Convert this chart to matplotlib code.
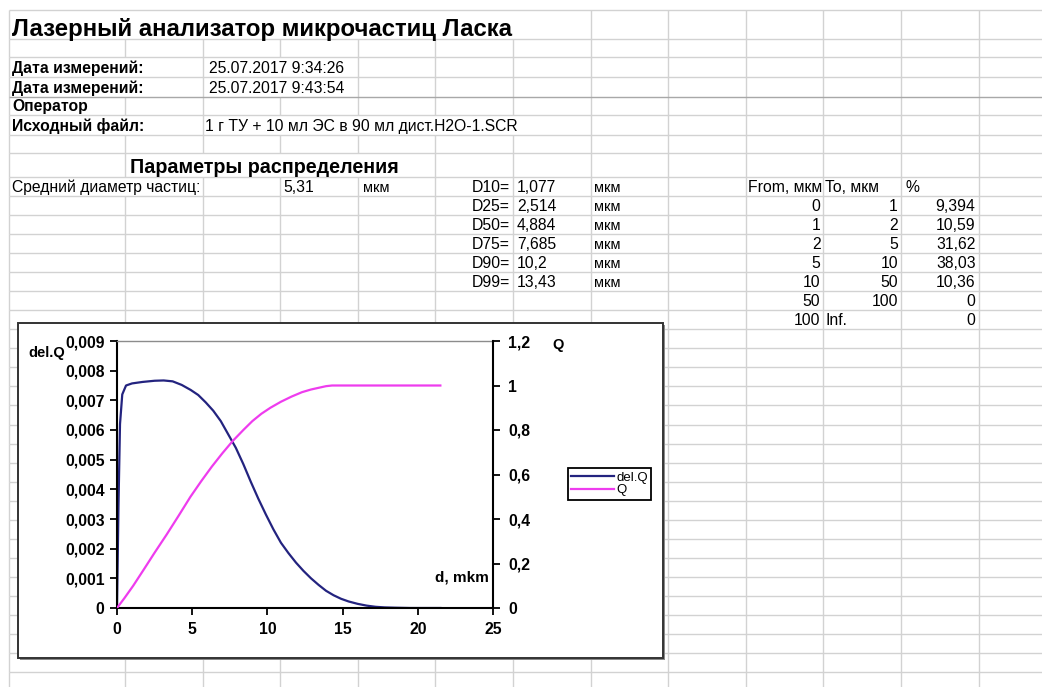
import numpy as np
import matplotlib
matplotlib.use("Agg")
import matplotlib.pyplot as plt
from matplotlib.patches import Rectangle

plt.rcParams["font.family"] = ["Liberation Sans", "DejaVu Sans"]

# --- sheet contents ---
title = "Лазерный анализатор микрочастиц Ласка"
date_start = "25.07.2017 9:34:26"
date_end = "25.07.2017 9:43:54"
src_file = "1 г ТУ + 10 мл ЭС в 90 мл дист.H2O-1.SCR"
mean_d = 5.31

d_names = ["D10", "D25", "D50", "D75", "D90", "D99"]
d_vals = [1.077, 2.514, 4.884, 7.685, 10.2, 13.43]

from_um = [0, 1, 2, 5, 10, 50, 100]
to_um = [1, 2, 5, 10, 50, 100, "Inf."]
pct = [9.394, 10.59, 31.62, 38.03, 10.36, 0, 0]

# --- curves ---
dq_x = [0.0, 0.1, 0.2, 0.35, 0.6, 1.0, 1.7, 2.5, 3.1, 3.7, 4.3, 4.9, 5.4, 5.9,
        6.4, 6.9, 7.4, 7.9, 8.4, 8.9, 9.4, 9.9, 10.4, 10.9, 11.4, 11.9, 12.4,
        12.9, 13.4, 13.9, 14.4, 14.9, 15.4, 16.0, 16.6, 17.2, 17.8, 18.5, 19.5, 21.5]
dq_y = [0.0, 0.0035, 0.0062, 0.0072, 0.0075, 0.00757, 0.00762, 0.00766, 0.00767,
        0.00764, 0.00752, 0.00735, 0.00718, 0.00693, 0.00665, 0.0063, 0.00585,
        0.0054, 0.00485, 0.00425, 0.00368, 0.00315, 0.00265, 0.0022, 0.00185,
        0.00153, 0.00125, 0.001, 0.00078, 0.00058, 0.00043, 0.00031, 0.00022,
        0.00014, 0.00008, 0.00004, 0.00002, 0.00001, 0.0, 0.0]

q_x = [0.0, 0.5, 1.077, 1.8, 2.514, 3.3, 4.1, 4.884, 5.6, 6.3, 7.0, 7.685, 8.4,
       9.0, 9.6, 10.2, 10.9, 11.6, 12.3, 12.9, 13.43, 13.9, 14.3, 21.5]
q_y = [0.0, 0.045, 0.10, 0.175, 0.25, 0.33, 0.415, 0.50, 0.57, 0.635, 0.695, 0.75,
       0.80, 0.84, 0.873, 0.90, 0.927, 0.95, 0.97, 0.982, 0.99, 0.997, 1.0, 1.0]

x_ticks = [0, 5, 10, 15, 20, 25]
dq_ticks = [0, 0.001, 0.002, 0.003, 0.004, 0.005, 0.006, 0.007, 0.008, 0.009]
q_ticks = [0, 0.2, 0.4, 0.6, 0.8, 1.0, 1.2]


def comma(v):
    if isinstance(v, str):
        return v
    if float(v).is_integer():
        return str(int(v))
    return ("%g" % v).replace(".", ",")


W, H = 1042, 687
fig = plt.figure(figsize=(W / 100, H / 100), dpi=100)

# spreadsheet layer in pixel coordinates
sh = fig.add_axes([0, 0, 1, 1])
sh.set_xlim(0, W)
sh.set_ylim(H, 0)
sh.axis("off")

col_x = [9] + list(125 + 77.6 * np.arange(12))
row_y = [10, 39, 57, 77, 97, 115, 135, 153, 177] + list(177 + 19.04 * np.arange(1, 28))

# cell borders hidden by overflowing / merged text: row -> column line index
hidden = {0: [1, 2, 3, 4, 5, 6], 2: [1, 3], 3: [1, 3], 5: [1, 3, 4, 5, 6],
          7: [2, 3, 4], 8: [1]}

grid_c = "#d2d2d2"
for i in range(len(row_y) - 1):
    for j, x in enumerate(col_x):
        if j in hidden.get(i, []):
            continue
        sh.vlines(x, row_y[i], row_y[i + 1], color=grid_c, lw=1.0)
for i, y in enumerate(row_y):
    sh.hlines(y, col_x[0], W, color="#a8a8a8" if i == 4 else grid_c, lw=1.0)


def base(i):
    return row_y[i + 1] - 4


fs = 11.3
sh.text(12, base(0) + 1, title, fontsize=17.3, fontweight="bold")
sh.text(12, base(2), "Дата измерений:", fontsize=fs, fontweight="bold")
sh.text(209, base(2), date_start, fontsize=fs)
sh.text(12, base(3), "Дата измерений:", fontsize=fs, fontweight="bold")
sh.text(209, base(3), date_end, fontsize=fs)
sh.text(12, base(4), "Оператор", fontsize=fs, fontweight="bold")
sh.text(12, base(5), "Исходный файл:", fontsize=fs, fontweight="bold")
sh.text(205, base(5), src_file, fontsize=fs)
sh.text(130, base(7), "Параметры распределения", fontsize=14.2, fontweight="bold")

sh.text(12, base(8), "Средний диаметр частиц:", fontsize=fs)
sh.text(col_x[3] + 3, base(8), comma(mean_d), fontsize=fs)
sh.text(col_x[4] + 5, base(8), "мкм", fontsize=10.5)

for k, (name, val) in enumerate(zip(d_names, d_vals)):
    r = 8 + k
    sh.text(col_x[6] - 3, base(r), name + "=", fontsize=fs, ha="right")
    sh.text(col_x[6] + 4, base(r), comma(val), fontsize=fs)
    sh.text(col_x[7] + 3, base(r), "мкм", fontsize=10.5)

sh.text(col_x[9] + 2, base(8), "From, мкм", fontsize=fs)
sh.text(col_x[10] + 2, base(8), "To, мкм", fontsize=fs)
sh.text(col_x[11] + 4, base(8), "%", fontsize=fs)
for k, (a, b, p) in enumerate(zip(from_um, to_um, pct)):
    r = 9 + k
    sh.text(col_x[10] - 3, base(r), comma(a), fontsize=fs, ha="right")
    if isinstance(b, str):
        sh.text(col_x[10] + 2, base(r), b, fontsize=fs)
    else:
        sh.text(col_x[11] - 3, base(r), comma(b), fontsize=fs, ha="right")
    sh.text(col_x[12] - 3, base(r), comma(p), fontsize=fs, ha="right")

# chart area frame with a small shadow, above the grid
sh.add_patch(Rectangle((20, 325), 645, 335, facecolor="#8a8a8a",
                       edgecolor="none", zorder=10))
sh.add_patch(Rectangle((18, 323), 645, 335, facecolor="white",
                       edgecolor="#333333", lw=1.4, zorder=11))

# --- chart ---
px_l, px_r, px_t, px_b = 117, 493, 341, 608
ax = fig.add_axes([px_l / W, 1 - px_b / H, (px_r - px_l) / W, (px_b - px_t) / H])
ax2 = ax.twinx()

navy = "#23237f"
pink = "#ee3cee"
l1, = ax.plot(dq_x, dq_y, color=navy, lw=1.6)
l2, = ax2.plot(q_x, q_y, color=pink, lw=1.6)

ax.set_xlim(0, 25)
ax.set_ylim(0, 0.009)
ax2.set_ylim(0, 1.2)
ax.set_xticks(x_ticks)
ax.set_xticklabels([comma(v) for v in x_ticks])
ax.set_yticks(dq_ticks)
ax.set_yticklabels([comma(round(v, 3)) for v in dq_ticks])
ax2.set_yticks(q_ticks)
ax2.set_yticklabels([comma(round(v, 1)) for v in q_ticks])

for lab in ax.get_xticklabels() + ax.get_yticklabels() + ax2.get_yticklabels():
    lab.set_fontsize(11.3)
    lab.set_fontweight("bold")
ax.tick_params(axis="both", direction="out", length=5, width=1.3, pad=4)
ax.tick_params(axis="x", pad=5)
ax2.tick_params(axis="y", direction="out", length=5, width=1.3, pad=6)

for a in (ax, ax2):
    a.patch.set_alpha(0)
    for s in a.spines.values():
        s.set_linewidth(1.5)
        s.set_color("black")
ax.spines["right"].set_visible(False)
ax2.spines["left"].set_visible(False)
ax2.spines["bottom"].set_visible(False)
ax2.spines["top"].set_visible(False)
ax.spines["top"].set_color("#8c8c8c")
ax.spines["top"].set_linewidth(1.0)

ax.text(-0.237, 0.955, "del.Q", transform=ax.transAxes, fontsize=10.5,
        fontweight="bold", va="center", ha="left")
ax.text(1.157, 0.985, "Q", transform=ax.transAxes, fontsize=10.5,
        fontweight="bold", va="center", ha="left")
ax2.text(0.99, 0.116, "d, mkm", transform=ax.transAxes, fontsize=11,
         fontweight="bold", va="center", ha="right")

leg = fig.legend([l1, l2], ["del.Q", "Q"], loc="upper left",
                 bbox_to_anchor=(568 / W, 1 - 468 / H), fontsize=9.5,
                 fancybox=False, framealpha=1, edgecolor="black",
                 handlelength=3.2, handletextpad=0.2, labelspacing=0.05,
                 borderpad=0.25, borderaxespad=0)
leg.get_frame().set_linewidth(1.3)

fig.savefig("out.png", dpi=100)
